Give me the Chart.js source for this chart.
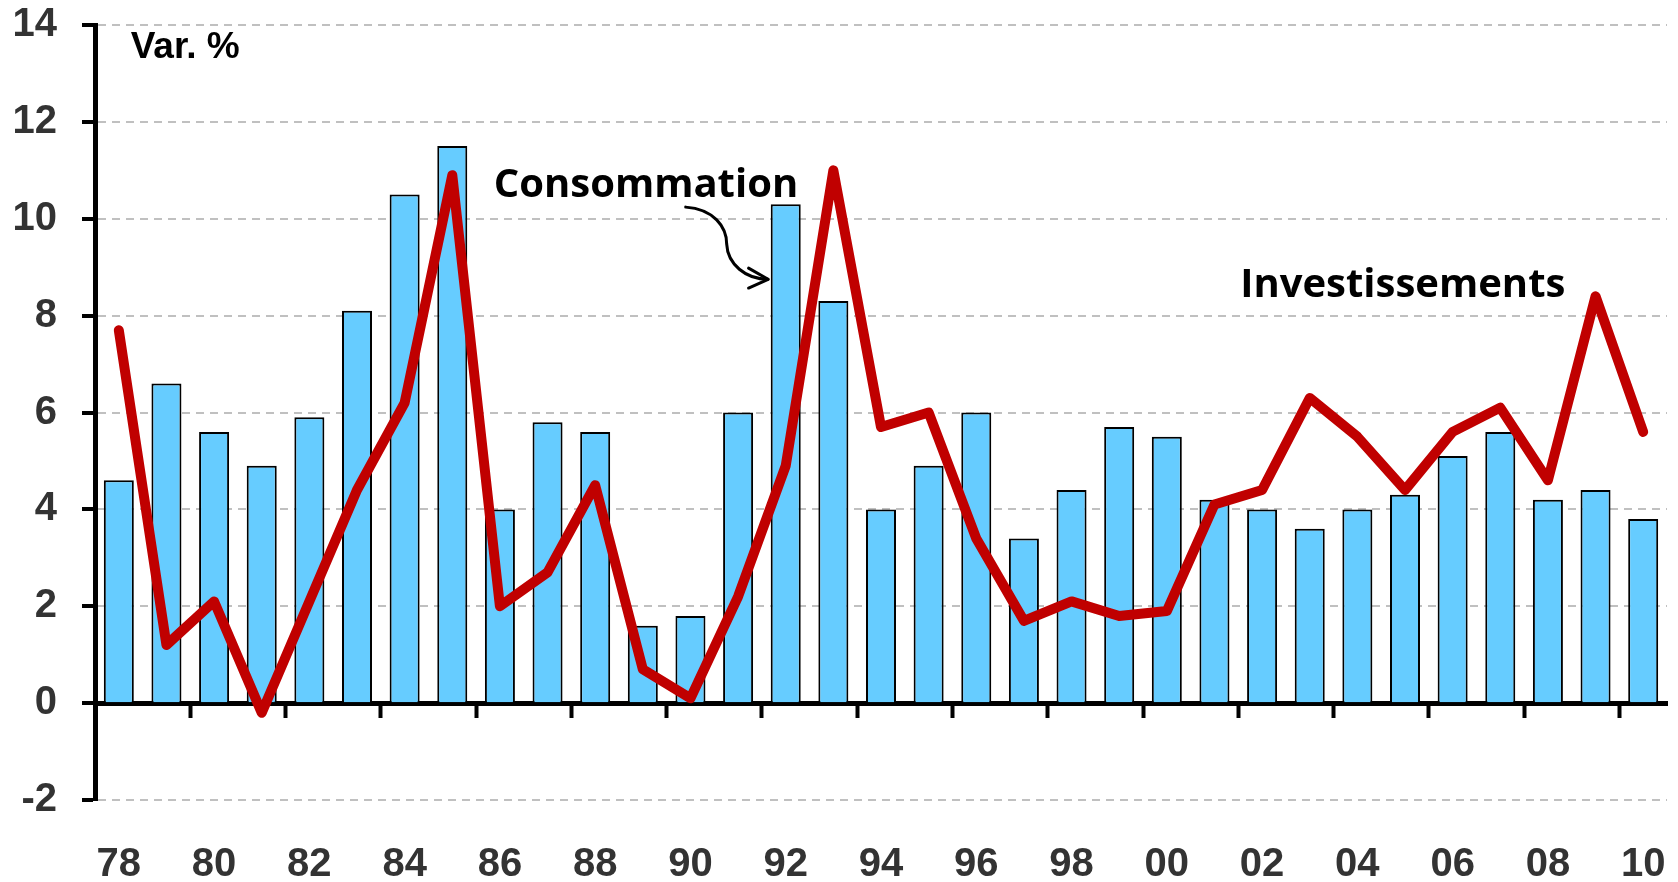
<!DOCTYPE html>
<html><head><meta charset="utf-8">
<script src="https://cdn.jsdelivr.net/npm/chart.js@4/dist/chart.umd.min.js"></script>
<style>html,body{margin:0;padding:0;background:#fff;overflow:hidden}#wrap{width:1678px;height:882px}</style>
</head><body><div id="wrap"><canvas id="c" width="1678" height="882"></canvas></div>
<script>
const years = ['78','79','80','81','82','83','84','85','86','87','88','89','90','91','92','93','94','95','96','97','98','99','00','01','02','03','04','05','06','07','08','09','10'];
const tickLabels = ['78','80','82','84','86','88','90','92','94','96','98','00','02','04','06','08','10'];
const consommation = [4.6,6.6,5.6,4.9,5.9,8.1,10.5,11.5,4.0,5.8,5.6,1.6,1.8,6.0,10.3,8.3,4.0,4.9,6.0,3.4,4.4,5.7,5.5,4.2,4.0,3.6,4.0,4.3,5.1,5.6,4.2,4.4,3.8];
const investissements = [7.7,1.2,2.1,-0.2,2.1,4.4,6.2,10.9,2.0,2.7,4.5,0.7,0.1,2.2,4.9,11.0,5.7,6.0,3.4,1.7,2.1,1.8,1.9,4.1,4.4,6.3,5.5,4.4,5.6,6.1,4.6,8.4,5.6];
const yMin = -2, yMax = 14, yStep = 2;

// annotations (in data units: category index, value)
const textNotes = [
  {text:'Var. %', x:0.25, y:13.32, font:'bold 37px "Liberation Sans", Arial, sans-serif'},
  {text:'Consommation', x:7.87, y:10.45, font:'bold 40px "Open Sans", sans-serif'},
  {text:'Investissements', x:23.54, y:8.38, font:'bold 40px "Open Sans", sans-serif'}
];
const arrowCurve = [[11.90,10.24],[12.49,10.20],[12.76,9.83],[12.76,9.48],[12.78,9.06],[13.16,8.75],[13.63,8.75]];
const arrowHead = [[13.22,8.98],[13.63,8.75],[13.22,8.57]];

const notesPlugin = {
  id: 'notes',
  afterDraw(chart) {
    const {ctx, scales:{x, y}} = chart;
    const P = p => [x.getPixelForValue(p[0]), y.getPixelForValue(p[1])];
    ctx.save();
    ctx.fillStyle = '#000';
    ctx.textAlign = 'left';
    ctx.textBaseline = 'alphabetic';
    textNotes.forEach(n => { ctx.font = n.font; const [px,py] = P([n.x,n.y]); ctx.fillText(n.text, px, py); });
    ctx.strokeStyle = '#000'; ctx.lineWidth = 3; ctx.lineCap = 'round'; ctx.lineJoin = 'round';
    const c = arrowCurve.map(P);
    ctx.beginPath();
    ctx.moveTo(c[0][0], c[0][1]);
    ctx.bezierCurveTo(c[1][0],c[1][1],c[2][0],c[2][1],c[3][0],c[3][1]);
    ctx.bezierCurveTo(c[4][0],c[4][1],c[5][0],c[5][1],c[6][0],c[6][1]);
    ctx.stroke();
    const h = arrowHead.map(P);
    ctx.beginPath(); ctx.moveTo(h[0][0],h[0][1]); ctx.lineTo(h[1][0],h[1][1]); ctx.lineTo(h[2][0],h[2][1]); ctx.stroke();
    ctx.restore();
  }
};

const tickFont = {family:'"Liberation Sans", Arial, sans-serif', size:40, weight:'bold'};

new Chart(document.getElementById('c'), {
  type: 'bar',
  data: {
    labels: years,
    datasets: [
      {type:'line', label:'Investissements', data: investissements, borderColor:'#C00000', borderWidth:10,
       pointRadius:0, tension:0, borderJoinStyle:'round', borderCapStyle:'round', fill:false, order:0, xAxisID:'x', yAxisID:'y'},
      {type:'bar', label:'Consommation', data: consommation, backgroundColor:'#66CCFF', borderColor:'#000', borderWidth:2,
       categoryPercentage:1, barPercentage:0.63, order:1, xAxisID:'x', yAxisID:'y'}
    ]
  },
  options: {
    responsive:false, animation:false, devicePixelRatio:1,
    layout:{padding:{top:25, right:11, bottom:0, left:0}},
    plugins:{legend:{display:false}, tooltip:{enabled:false}},
    scales:{
      x:{type:'category', position:{y:0}, offset:true,
         grid:{offset:true, drawOnChartArea:false, drawTicks:true, tickLength:12, tickWidth:4,
               tickColor: c => (typeof c.index === 'number' && c.index > 0 && c.index % 2 === 0) ? '#000' : 'rgba(0,0,0,0)'},
         border:{display:true, color:'#000', width:5},
         ticks:{display:false, autoSkip:false}},
      x2:{type:'category', position:'bottom', offset:true,
         grid:{display:false, drawTicks:false}, border:{display:false},
         ticks:{autoSkip:false, maxRotation:0, padding:41, color:'#333333', font:tickFont,
                callback:(v,i) => tickLabels.includes(years[i]) ? years[i] : ''},
         afterFit: s => { s.height = 82; s.paddingLeft = 0; s.paddingRight = 0; }},
      y:{min:yMin, max:yMax,
         ticks:{stepSize:yStep, padding:25, color:'#333333', font:tickFont},
         grid:{color:'#C0C0C0', lineWidth:2, drawTicks:true, tickLength:13, tickWidth:4, tickColor:'#000'},
         border:{display:true, color:'#000', width:5, dash:[8,6]},
         afterFit: s => { s.width = 95; s.paddingTop = 0; s.paddingBottom = 0; }}
    }
  },
  plugins:[notesPlugin]
});
</script></body></html>
